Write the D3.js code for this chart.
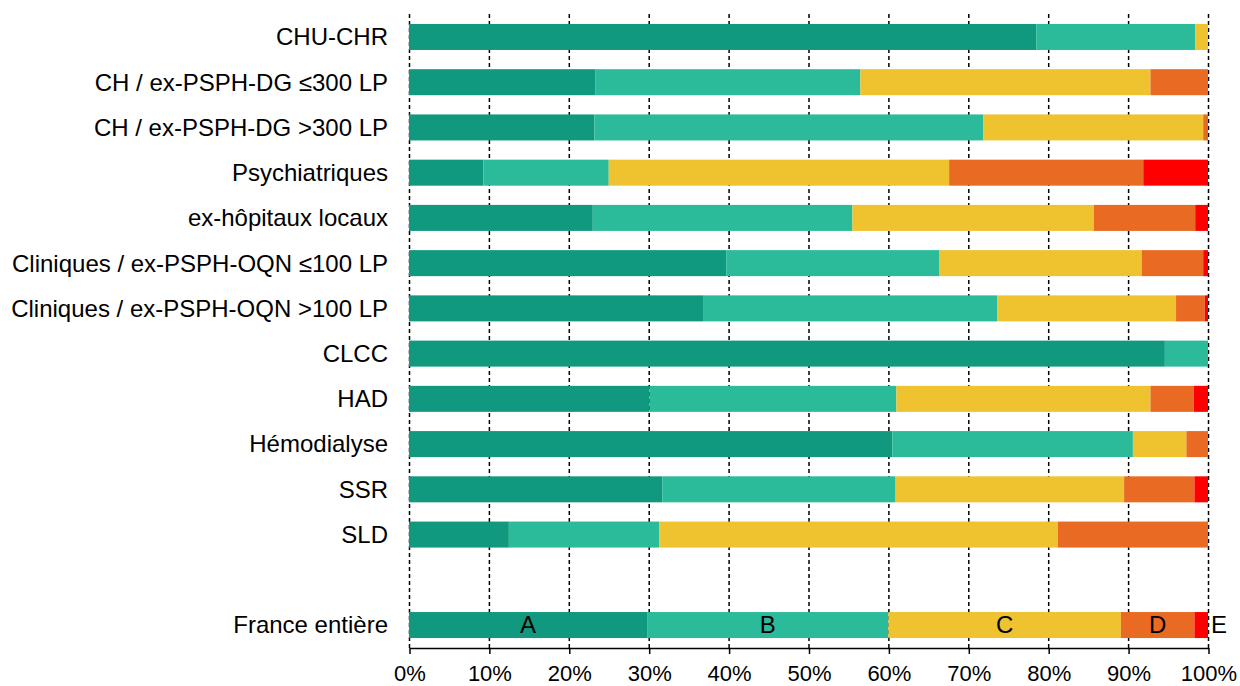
<!DOCTYPE html>
<html>
<head>
<meta charset="utf-8">
<script src="https://cdn.jsdelivr.net/npm/d3@7"></script>
<style>
  body { margin: 0; background: #fff; }
  svg { font-family: Arial, "Liberation Sans", sans-serif; }
</style>
</head>
<body>
<svg id="chart" width="1240" height="686"></svg>
<script>

// categories, top to bottom (the empty slot before "France entière" is a spacer)
const categories = [
  'CHU-CHR',
  'CH / ex-PSPH-DG ≤300 LP',
  'CH / ex-PSPH-DG >300 LP',
  'Psychiatriques',
  'ex-hôpitaux locaux',
  'Cliniques / ex-PSPH-OQN ≤100 LP',
  'Cliniques / ex-PSPH-OQN >100 LP',
  'CLCC',
  'HAD',
  'Hémodialyse',
  'SSR',
  'SLD',
  'France entière'
];

const classes = ['A', 'B', 'C', 'D', 'E'];

// share of each class (%) per category, same order as categories
const valA = [78.5, 23.3, 23.2,  9.3, 23.0, 39.7, 36.8, 94.6, 30.1, 60.5, 31.7, 12.5, 29.8];
const valB = [19.9, 33.2, 48.7, 15.7, 32.5, 26.7, 36.8,  5.4, 30.9, 30.1, 29.2, 18.8, 30.2];
const valC = [ 1.6, 36.3, 27.5, 42.6, 30.2, 25.3, 22.4,  0.0, 31.8,  6.7, 28.6, 49.9, 29.1];
const valD = [ 0.0,  7.2,  0.6, 24.3, 12.7,  7.7,  3.6,  0.0,  5.4,  2.7,  8.8, 18.8,  9.2];
const valE = [ 0.0,  0.0,  0.0,  8.1,  1.6,  0.6,  0.4,  0.0,  1.8,  0.0,  1.7,  0.0,  1.7];

const colors = ['#10997e', '#2bbb9b', '#efc230', '#e96a23', '#ff0000'];

const xTicks = [0, 10, 20, 30, 40, 50, 60, 70, 80, 90, 100];

const svg = d3.select('#chart');

const rows = categories.map((c, i) => ({
  cat: c, A: valA[i], B: valB[i], C: valC[i], D: valD[i], E: valE[i]
}));

const spacer = '__gap__';
const domainY = [...categories.slice(0, 12), spacer, categories[12]];

const x = d3.scaleLinear().domain([0, 100]).range([409, 1208]);
const y = d3.scaleBand().domain(domainY).range([14, 648])
  .paddingInner(0.425).paddingOuter(0.22);

// dashed grid
svg.append('g')
  .selectAll('line')
  .data(xTicks)
  .join('line')
  .attr('x1', d => x(d) + 0.5).attr('x2', d => x(d) + 0.5)
  .attr('y1', 14).attr('y2', 648)
  .attr('stroke', '#000')
  .attr('stroke-width', 1.5)
  .attr('stroke-dasharray', '4,3');

const stack = d3.stack().keys(classes);
const series = stack(rows);

svg.append('g')
  .selectAll('g')
  .data(series)
  .join('g')
  .attr('fill', (d, i) => colors[i])
  .selectAll('rect')
  .data(d => d.filter(s => s[1] - s[0] > 0))
  .join('rect')
  .attr('x', d => x(d[0]))
  .attr('width', d => x(d[1]) - x(d[0]))
  .attr('y', d => y(d.data.cat))
  .attr('height', y.bandwidth());

// category labels
svg.append('g')
  .selectAll('text')
  .data(categories)
  .join('text')
  .attr('x', 388)
  .attr('y', d => y(d) + y.bandwidth() / 2)
  .attr('dy', '0.35em')
  .attr('text-anchor', 'end')
  .attr('font-size', 24)
  .attr('fill', '#000')
  .text(d => d);

// class labels on the national bar
const total = series.map(s => s[s.length - 1]);
svg.append('g')
  .selectAll('text')
  .data(total)
  .join('text')
  .attr('x', (d, i) => i === 4 ? x(d[1]) + 3 : x((d[0] + d[1]) / 2))
  .attr('y', y('France entière') + y.bandwidth() / 2)
  .attr('dy', '0.35em')
  .attr('text-anchor', (d, i) => i === 4 ? 'start' : 'middle')
  .attr('font-size', 24)
  .attr('fill', '#000')
  .text((d, i) => classes[i]);

// bottom axis
const xAxis = d3.axisBottom(x)
  .tickValues(xTicks)
  .tickFormat(d => d + '%')
  .tickSize(6)
  .tickPadding(11)
  .tickSizeOuter(0);

const gx = svg.append('g')
  .attr('transform', 'translate(0.5,648)')
  .call(xAxis);
gx.select('.domain').attr('stroke', '#000').attr('stroke-width', 1.5);
gx.selectAll('.tick line').attr('stroke', '#000').attr('stroke-width', 1.5);
gx.selectAll('.tick text').attr('font-size', 22).attr('fill', '#000')
  .attr('font-family', 'Arial, "Liberation Sans", sans-serif');

</script>
</body>
</html>
